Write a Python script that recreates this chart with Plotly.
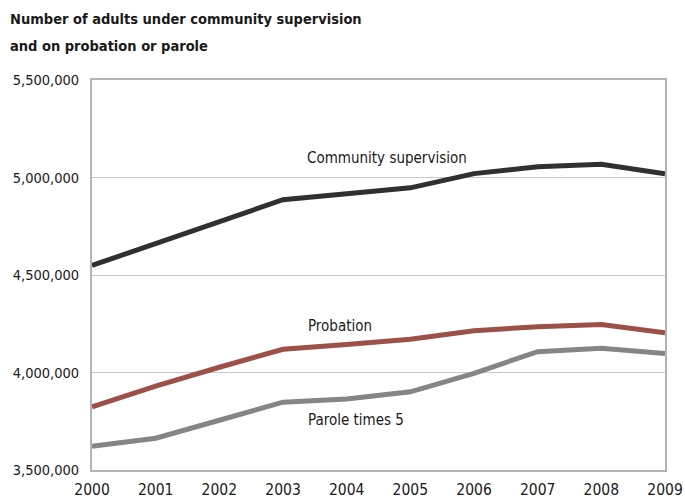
import plotly.graph_objects as go

years = [2000, 2001, 2002, 2003, 2004, 2005, 2006, 2007, 2008, 2009]
community = [4549000, 4662000, 4775000, 4886000, 4917000, 4947000, 5020000, 5055000, 5068000, 5019000]
probation = [3824000, 3930000, 4027000, 4119000, 4144000, 4170000, 4214000, 4235000, 4246000, 4204000]
parole_x5 = [3622000, 3663000, 3755000, 3848000, 3864000, 3901000, 3996000, 4107000, 4124000, 4097000]
y_ticks = [3500000, 4000000, 4500000, 5000000, 5500000]
y_tick_labels = ["3,500,000", "4,000,000", "4,500,000", "5,000,000", "5,500,000"]
title_lines = ["Number of adults under community supervision", "and on probation or parole"]

FONT = "Liberation Sans Narrow, DejaVu Sans Condensed, Arial Narrow, sans-serif"

fig = go.Figure()
fig.add_trace(go.Scatter(x=years, y=community, mode="lines", line=dict(color="#303030", width=5), name="Community supervision"))
fig.add_trace(go.Scatter(x=years, y=probation, mode="lines", line=dict(color="#9c5048", width=5), name="Probation"))
fig.add_trace(go.Scatter(x=years, y=parole_x5, mode="lines", line=dict(color="#858585", width=5), name="Parole times 5"))

for txt, x, y in [("Community supervision", 2004.63, 5100000), ("Probation", 2003.9, 4240000), ("Parole times 5", 2004.14, 3755000)]:
    fig.add_annotation(x=x, y=y, text=txt, showarrow=False, font=dict(family=FONT, size=15, color="#1a1a1a"))

for line, ypos in zip(title_lines, [1.156, 1.087]):
    fig.add_annotation(xref="paper", yref="paper", x=-0.147, y=ypos, xanchor="left", yanchor="middle",
                       text="<b>" + line + "</b>", showarrow=False, align="left",
                       font=dict(family=FONT, size=14.5, color="#1a1a1a"))

fig.update_layout(
    width=685, height=502,
    margin=dict(l=92, r=20, t=80, b=32, autoexpand=False),
    paper_bgcolor="white", plot_bgcolor="white",
    showlegend=False,
    font=dict(family=FONT, size=14, color="#1a1a1a"),
    xaxis=dict(range=[2000, 2009], tickmode="array", tickvals=years, ticktext=[str(y) for y in years],
               showgrid=False, showline=True, linecolor="#b3b3b3", linewidth=2, mirror=True,
               ticks="", zeroline=False, tickfont=dict(size=15.5), automargin=False, ticklabelstandoff=4),
    yaxis=dict(range=[3500000, 5500000], tickmode="array", tickvals=y_ticks, ticktext=y_tick_labels,
               showgrid=True, gridcolor="#c8c8c8", gridwidth=1, showline=True, linecolor="#b3b3b3",
               linewidth=2, mirror=True, ticks="", zeroline=False, tickfont=dict(size=14.5),
               ticklabelstandoff=8, automargin=False),
)

fig.write_html("out.html", config={"displayModeBar": False},
               post_script="document.body.style.margin='0px';")
